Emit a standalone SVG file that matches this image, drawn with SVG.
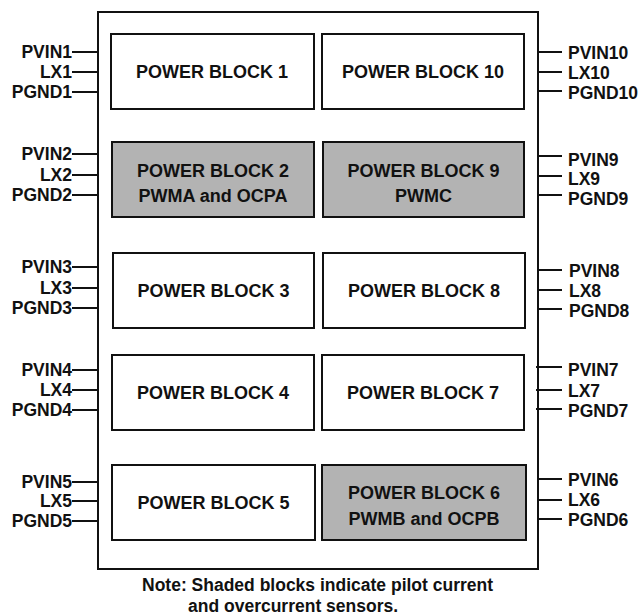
<svg xmlns="http://www.w3.org/2000/svg" width="641" height="616" viewBox="0 0 641 616">
<style>
.bx{fill:#fff;stroke:#111;stroke-width:2}
.sh{fill:#b3b3b3;stroke:#111;stroke-width:2}
.t{font-family:"Liberation Sans",Arial,sans-serif;font-weight:bold;font-size:18px;fill:#111;text-anchor:middle}
.pl{font-family:"Liberation Sans",Arial,sans-serif;font-weight:bold;font-size:17.5px;fill:#111;text-anchor:end}
.pr{font-family:"Liberation Sans",Arial,sans-serif;font-weight:bold;font-size:17.5px;fill:#111;text-anchor:start}
.n{font-family:"Liberation Sans",Arial,sans-serif;font-weight:bold;font-size:17.5px;fill:#111}
.w{stroke:#111;stroke-width:2;fill:none}
</style>
<rect width="641" height="616" fill="#fff"/>
<g id="chip"><rect class="bx" x="98" y="12" width="440" height="557"/></g>
<g id="connectors">
<path class="w" d="M72 52H99M72 72H99M72 92H99M72 154H99M72 175H99M72 195H99M72 267H99M72 288H99M72 308H99M72 370H99M72 390H99M72 410H99M72 482H99M72 501H99M72 521H99"/>
<path class="w" d="M537 52H562M537 72H562M537 91H562M537 156H562M537 176H562M537 195H562M537 270H562M537 290H562M537 309H562M536 367H562M536 390H562M536 409H562M537 479H562M537 500H562M537 519H562"/>
</g>
<g id="block1"><rect class="bx" x="111" y="34" width="203" height="75"/><text class="t" x="212" y="78">POWER BLOCK 1</text></g>
<g id="block10"><rect class="bx" x="322" y="34" width="202" height="75"/><text class="t" x="423" y="78">POWER BLOCK 10</text></g>
<g id="block2"><rect class="sh" x="112" y="142" width="202" height="75"/><text class="t" x="213" y="177">POWER BLOCK 2</text><text class="t" x="213" y="202">PWMA and OCPA</text></g>
<g id="block9"><rect class="sh" x="323" y="142" width="201" height="75"/><text class="t" x="423.5" y="177">POWER BLOCK 9</text><text class="t" x="423.5" y="202">PWMC</text></g>
<g id="block3"><rect class="bx" x="113" y="253" width="201" height="75"/><text class="t" x="213.5" y="297">POWER BLOCK 3</text></g>
<g id="block8"><rect class="bx" x="323" y="253" width="202" height="75"/><text class="t" x="424" y="297">POWER BLOCK 8</text></g>
<g id="block4"><rect class="bx" x="112" y="355" width="202" height="75"/><text class="t" x="213" y="399">POWER BLOCK 4</text></g>
<g id="block7"><rect class="bx" x="322" y="355" width="202" height="75"/><text class="t" x="423" y="399">POWER BLOCK 7</text></g>
<g id="block5"><rect class="bx" x="112" y="465" width="203" height="75"/><text class="t" x="213.5" y="509">POWER BLOCK 5</text></g>
<g id="block6"><rect class="sh" x="322" y="465" width="204" height="75"/><text class="t" x="424" y="499">POWER BLOCK 6</text><text class="t" x="424" y="525">PWMB and OCPB</text></g>
<g id="pins-left">
<text class="pl" x="72" y="58">PVIN1</text><text class="pl" x="72" y="78">LX1</text><text class="pl" x="72" y="98">PGND1</text>
<text class="pl" x="72" y="160">PVIN2</text><text class="pl" x="72" y="181">LX2</text><text class="pl" x="72" y="201">PGND2</text>
<text class="pl" x="72" y="273">PVIN3</text><text class="pl" x="72" y="294">LX3</text><text class="pl" x="72" y="314">PGND3</text>
<text class="pl" x="72" y="376">PVIN4</text><text class="pl" x="72" y="396">LX4</text><text class="pl" x="72" y="416">PGND4</text>
<text class="pl" x="72" y="488">PVIN5</text><text class="pl" x="72" y="507">LX5</text><text class="pl" x="72" y="527">PGND5</text>
</g>
<g id="pins-right">
<text class="pr" x="568" y="59">PVIN10</text><text class="pr" x="568" y="79">LX10</text><text class="pr" x="568" y="99">PGND10</text>
<text class="pr" x="568" y="166">PVIN9</text><text class="pr" x="568" y="185">LX9</text><text class="pr" x="568" y="205">PGND9</text>
<text class="pr" x="569" y="277">PVIN8</text><text class="pr" x="569" y="297">LX8</text><text class="pr" x="569" y="317">PGND8</text>
<text class="pr" x="568" y="376">PVIN7</text><text class="pr" x="568" y="397">LX7</text><text class="pr" x="568" y="417">PGND7</text>
<text class="pr" x="568" y="486">PVIN6</text><text class="pr" x="568" y="506">LX6</text><text class="pr" x="568" y="526">PGND6</text>
</g>
<g id="note">
<text class="n" x="142" y="591">Note: Shaded blocks indicate pilot current</text>
<text class="n" x="188" y="612">and overcurrent sensors.</text>
</g>
</svg>
